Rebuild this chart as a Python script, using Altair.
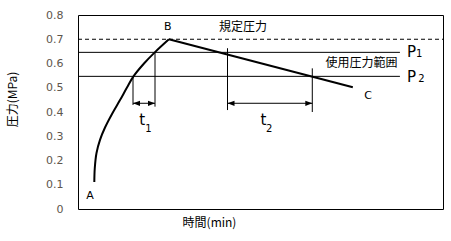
import altair as alt
import pandas as pd

# Pressure rise curve A -> B, then the decay line B -> C
rise_t = [4.47, 4.60, 5.07, 6.03, 7.40, 9.32, 11.51, 13.42, 15.15, 18.08, 21.10, 24.9]
rise_p = [0.111, 0.169, 0.231, 0.285, 0.336, 0.392, 0.449, 0.501, 0.546, 0.600, 0.647, 0.700]
fall_t = [24.9, 75.3]
fall_p = [0.700, 0.502]

# Reference pressure levels
p_rated = 0.70
p1 = 0.646
p2 = 0.547
range_end = 88.2

# Time span markers t1 and t2
span_x = [15.07, 21.1, 40.96, 64.19]
span_top = [0.547, 0.646, 0.663, 0.580]
span_bottom = [0.429, 0.422, 0.408, 0.400]
t1_span = [15.07, 21.1]
t2_span = [40.96, 64.19]
arrow_p = 0.436

# Point labels
pt_text = ["A", "B", "C"]
pt_t = [3.3, 24.6, 79.5]
pt_p = [0.054, 0.752, 0.466]

jp_text = ["規定圧力", "使用圧力範囲"]
jp_t = [45.2, 77.7]
jp_p = [0.752, 0.603]

big_text = ["t", "t", "P", "P"]
big_t = [17.6, 50.8, 91.4, 91.4]
big_p = [0.345, 0.345, 0.625, 0.522]
sub_text = ["1", "2", "1", "2"]
sub_t = [19.3, 52.4, 93.5, 94.1]
sub_p = [0.318, 0.318, 0.625, 0.522]

y_ticks = [0, 0.1, 0.2, 0.3, 0.4, 0.5, 0.6, 0.7, 0.8]

X = alt.X("t:Q", scale=alt.Scale(domain=[0, 100], nice=False), axis=alt.Axis(
    title="時間(min)", labels=False, ticks=False, domain=False, grid=False,
    titleX=131, titleY=13, titleBaseline="middle", titleFont="Noto Sans CJK JP",
    titleFontSize=12, titleFontWeight="normal", titleColor="#000000"))
Y = alt.Y("p:Q", scale=alt.Scale(domain=[0, 0.8], nice=False), axis=alt.Axis(
    title="圧力(MPa)", values=y_ticks, format=".1~f", ticks=False, domain=False,
    grid=False, labelPadding=15, labelFontSize=11, labelColor="#5e564c",
    labelFont="DejaVu Sans", labelOverlap=False, titleX=-66, titleY=84, titleAngle=270,
    titleAlign="center", titleBaseline="middle", titleFont="Noto Sans CJK JP",
    titleFontSize=12, titleFontWeight="normal", titleColor="#000000"))

rise = alt.Chart(pd.DataFrame({"t": rise_t, "p": rise_p})).mark_line(
    color="black", strokeWidth=2, interpolate="catmull-rom").encode(x=X, y=Y)
fall = alt.Chart(pd.DataFrame({"t": fall_t, "p": fall_p})).mark_line(
    color="black", strokeWidth=2).encode(x=X, y=Y)

rated = alt.Chart(pd.DataFrame({"t": [0], "t2": [100], "p": [p_rated]})).mark_rule(
    color="black", strokeWidth=1, strokeDash=[4, 3]).encode(x=X, x2="t2:Q", y=Y)

levels = alt.Chart(pd.DataFrame({"p": [p1, p2], "t": [0, 0], "t2": [range_end, range_end]})).mark_rule(
    color="black", strokeWidth=1).encode(x=X, x2="t2:Q", y=Y)

verticals = alt.Chart(pd.DataFrame({"t": span_x, "p": span_top, "p2": span_bottom})).mark_rule(
    color="black", strokeWidth=1).encode(x=X, y=Y, y2="p2:Q")

spans_df = pd.DataFrame({
    "t": [t1_span[0], t2_span[0]],
    "t2": [t1_span[1], t2_span[1]],
    "p": [arrow_p, arrow_p],
})
arrows = alt.Chart(spans_df).mark_rule(color="black", strokeWidth=1).encode(
    x=X, x2="t2:Q", y=Y)

left_heads = alt.Chart(pd.DataFrame({"t": [t1_span[0], t2_span[0]], "p": [arrow_p] * 2})).mark_point(
    shape="M0,0L2,-0.75L2,0.75Z", size=49, filled=True, color="black", opacity=1).encode(x=X, y=Y)
right_heads = alt.Chart(pd.DataFrame({"t": [t1_span[1], t2_span[1]], "p": [arrow_p] * 2})).mark_point(
    shape="M0,0L-2,-0.75L-2,0.75Z", size=49, filled=True, color="black", opacity=1).encode(x=X, y=Y)

pt_labels = alt.Chart(pd.DataFrame({"t": pt_t, "p": pt_p, "s": pt_text})).mark_text(
    font="DejaVu Sans", fontSize=11, color="black", baseline="middle").encode(x=X, y=Y, text="s:N")

jp_labels = alt.Chart(pd.DataFrame({"t": jp_t, "p": jp_p, "s": jp_text})).mark_text(
    font="Noto Sans CJK JP", fontSize=12, color="black", baseline="middle").encode(x=X, y=Y, text="s:N")

big_labels = alt.Chart(pd.DataFrame({"t": big_t, "p": big_p, "s": big_text})).mark_text(
    font="DejaVu Sans", fontSize=15, color="black", baseline="alphabetic").encode(x=X, y=Y, text="s:N")
sub_labels = alt.Chart(pd.DataFrame({"t": sub_t, "p": sub_p, "s": sub_text})).mark_text(
    font="DejaVu Sans", fontSize=10, color="black", baseline="alphabetic").encode(x=X, y=Y, text="s:N")

chart = alt.layer(
    rated, levels, verticals, arrows, left_heads, right_heads,
    rise, fall, pt_labels, jp_labels, big_labels, sub_labels,
).properties(
    width=365, height=194,
    autosize=alt.AutoSizeParams(type="none"),
    padding={"left": 78, "top": 15, "right": 8, "bottom": 32},
    background="white",
).configure_view(stroke="black", strokeWidth=1)

chart.save("out.html", embed_options={"renderer": "svg", "actions": False})
